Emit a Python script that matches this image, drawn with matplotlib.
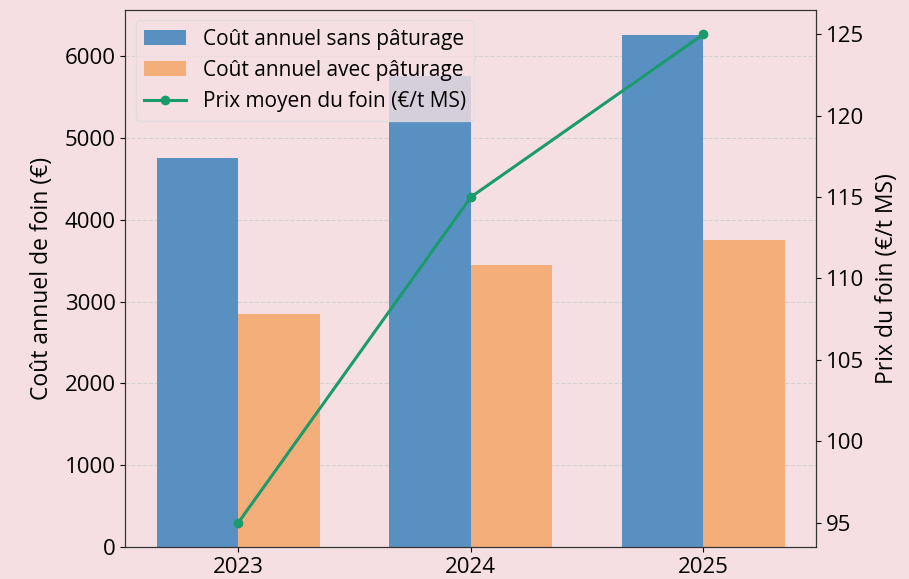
import matplotlib.pyplot as plt
import numpy as np

plt.rcParams['font.family'] = ['Open Sans', 'DejaVu Sans']

years = ['2023', '2024', '2025']
cout_sans = [4750, 5750, 6250]
cout_avec = [2850, 3450, 3750]
prix_foin = [95, 115, 125]

bg = '#f5dfe3'
blue = '#4f8dc0'
orange = '#f4ac73'
green = '#1a9b6c'

fig, ax = plt.subplots(figsize=(9.09, 5.79), dpi=100)
fig.patch.set_facecolor(bg)
ax.set_facecolor(bg)

x = np.arange(len(years))
w = 0.35
b1 = ax.bar(x - w / 2, cout_sans, w, color=blue, alpha=0.95, label='Coût annuel sans pâturage')
b2 = ax.bar(x + w / 2, cout_avec, w, color=orange, alpha=0.95, label='Coût annuel avec pâturage')
ax.set_xticks(x)
ax.set_xticklabels(years)
ax.set_ylabel('Coût annuel de foin (€)', fontsize=16.5, labelpad=8)
ax.tick_params(labelsize=16)
ax.grid(axis='y', linestyle='--', color='#cccccc', alpha=0.8)
ax.set_axisbelow(True)

ax2 = ax.twinx()
l1, = ax2.plot(x, prix_foin, color=green, lw=2.2, marker='o', ms=6, label='Prix moyen du foin (€/t MS)')
ax2.set_ylabel('Prix du foin (€/t MS)', fontsize=16.5, labelpad=8)
ax2.tick_params(labelsize=16)

for a in (ax, ax2):
    for s in a.spines.values():
        s.set_color('#333333')

leg = ax2.legend(handles=[b1, b2, l1], loc='upper left', fontsize=15,
                 facecolor=bg, framealpha=0.8, edgecolor='#dddddd')

fig.subplots_adjust(left=0.138, right=0.898, top=0.983, bottom=0.055)
fig.savefig('out.png', facecolor=bg)
